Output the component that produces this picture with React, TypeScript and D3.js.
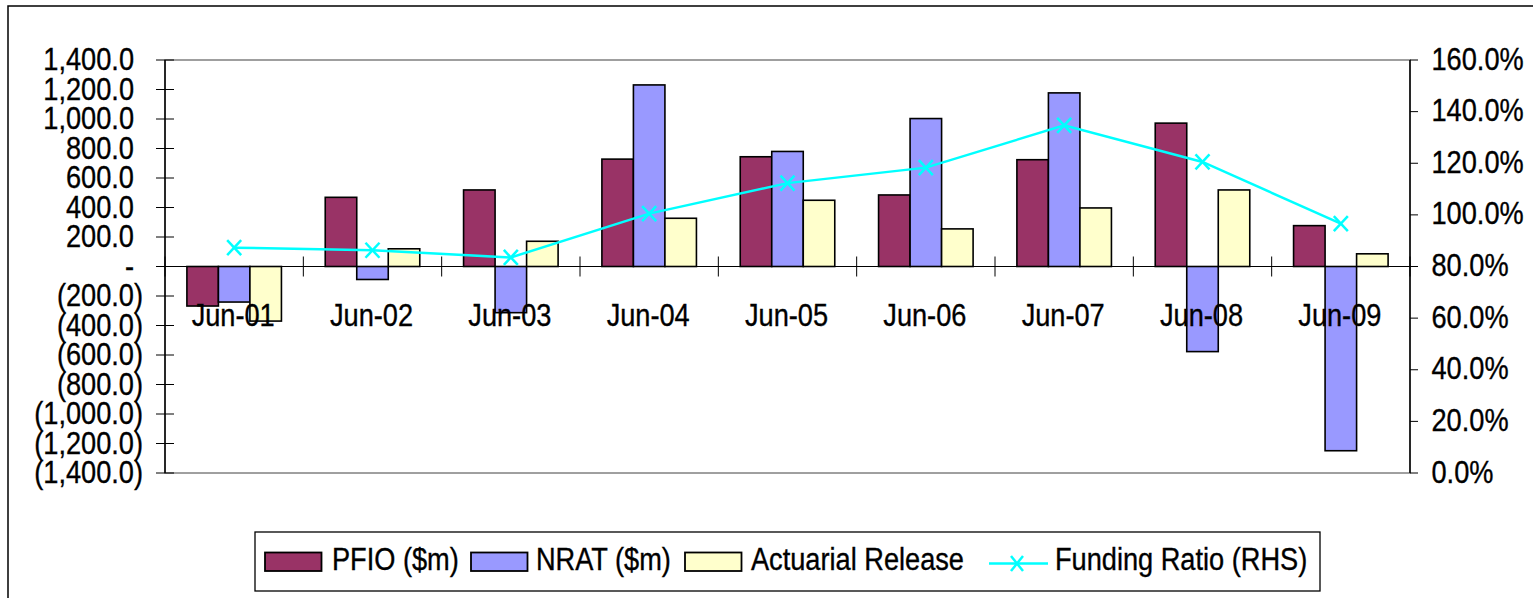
import React from "react";
import * as d3 from "d3";

const categories = ["Jun-01", "Jun-02", "Jun-03", "Jun-04", "Jun-05", "Jun-06", "Jun-07", "Jun-08", "Jun-09"];
const pfio = [-268, 469, 519, 728, 744, 485, 724, 972, 277];
const nrat = [-241, -88, -313, 1231, 780, 1003, 1177, -577, -1249];
const actuarial = [-370, 120, 171, 327, 449, 255, 397, 519, 86];
const funding = [87.3, 86.3, 83.5, 100.5, 112.3, 118.3, 134.7, 120.5, 96.6];
const leftTicks = [-1400, -1200, -1000, -800, -600, -400, -200, 0, 200, 400, 600, 800, 1000, 1200, 1400];
const rightTicks = [0, 20, 40, 60, 80, 100, 120, 140, 160];

const seriesNames = ["PFIO ($m)", "NRAT ($m)", "Actuarial Release", "Funding Ratio (RHS)"];
const colors = ["#993366", "#9999FF", "#FFFFCC"];
const lineColor = "#00FFFF";

const W = 1533, H = 598;
const L = 165, R = 1410, T = 60, B = 473;
const FONT = "'Liberation Sans', Arial, sans-serif";
const FS = 31;
const SX = 0.877;

function T2({ x, y, anchor, children }: { x: number; y: number; anchor?: string; children: React.ReactNode }) {
  return (
    <text
      transform={`translate(${x},${y}) scale(${SX},1)`}
      textAnchor={anchor || "start"}
      fontSize={FS}
      fontFamily={FONT}
      fill="#000"
      stroke="#000"
      strokeWidth={0.35}
    >
      {children}
    </text>
  );
}

const fmtNum = d3.format(",.1f");

export default function App() {
  const x = d3.scaleBand<string>().domain(categories).range([L, R]).paddingInner(0).paddingOuter(0);
  const y = d3.scaleLinear().domain([-1400, 1400]).range([B, T]);
  const y2 = d3.scaleLinear().domain([0, 160]).range([B, T]);
  const bw = x.bandwidth();
  const barW = bw / 4.39;
  const groupOff = (bw - barW * 3) / 2;
  const series = [pfio, nrat, actuarial];
  const line = d3.line<number>().x((_, i) => x(categories[i])! + bw / 2).y((d) => y2(d));
  const y0 = y(0);

  const legendItems = [
    { sx: 265, tx: 332 },
    { sx: 471, tx: 536 },
    { sx: 685, tx: 751 },
  ];

  return (
    <svg width={W} height={H} style={{ position: "absolute", left: 0, top: 0, display: "block" }}>
      <rect x={0} y={0} width={W} height={H} fill="#fff" />
      <rect x={8} y={6} width={1530} height={600} fill="none" stroke="#000" strokeWidth={1.5} />
      {/* plot area border */}
      <rect x={L} y={T} width={R - L} height={B - T} fill="none" stroke="#808080" strokeWidth={1.5} />
      {/* bars */}
      {series.map((s, si) =>
        s.map((v, i) => {
          const bx = x(categories[i])! + groupOff + si * barW;
          const top = Math.min(y(v), y0);
          const h = Math.abs(y(v) - y0);
          return <rect key={`${si}-${i}`} x={bx} y={top} width={barW} height={h} fill={colors[si]} stroke="#000" strokeWidth={1.6} />;
        })
      )}
      {/* zero line */}
      <line x1={L} x2={R} y1={y0} y2={y0} stroke="#000" strokeWidth={1} />
      {/* category ticks */}
      {categories.concat(["end"]).map((c, i) => {
        const cx = L + i * bw;
        return <line key={c} x1={cx} x2={cx} y1={y0 - 10} y2={y0 + 10} stroke="#000" strokeWidth={1} />;
      })}
      {/* left axis */}
      <line x1={L} x2={L} y1={T} y2={B} stroke="#000" strokeWidth={1.5} />
      {leftTicks.map((t) => (
        <line key={t} x1={L - 9} x2={L + 9} y1={y(t)} y2={y(t)} stroke="#000" strokeWidth={1} />
      ))}
      {leftTicks.map((t) => {
        if (t === 0) return <T2 key={t} x={134} y={y(t) + 10} anchor="end">-</T2>;
        if (t < 0) return <T2 key={t} x={143} y={y(t) + 10} anchor="end">{`(${fmtNum(-t)})`}</T2>;
        return <T2 key={t} x={134} y={y(t) + 10} anchor="end">{fmtNum(t)}</T2>;
      })}
      {/* right axis */}
      <line x1={R} x2={R} y1={T} y2={B} stroke="#000" strokeWidth={1.5} />
      {rightTicks.map((t) => (
        <line key={t} x1={R} x2={R + 8} y1={y2(t)} y2={y2(t)} stroke="#000" strokeWidth={1} />
      ))}
      {rightTicks.map((t) => (
        <T2 key={t} x={1431.5} y={y2(t) + 9.5}>{`${t.toFixed(1)}%`}</T2>
      ))}
      {/* category labels */}
      {categories.map((c) => (
        <T2 key={c} x={x(c)! + bw / 2 - 1} y={325.5} anchor="middle">{c}</T2>
      ))}
      {/* funding line */}
      <path d={line(funding) || ""} fill="none" stroke={lineColor} strokeWidth={2.5} />
      {funding.map((v, i) => {
        const cx = x(categories[i])! + bw / 2;
        const cy = y2(v);
        return (
          <g key={i} stroke={lineColor} strokeWidth={2.5}>
            <line x1={cx - 7} y1={cy - 7.5} x2={cx + 7} y2={cy + 7.5} />
            <line x1={cx - 7} y1={cy + 7.5} x2={cx + 7} y2={cy - 7.5} />
          </g>
        );
      })}
      {/* legend */}
      <rect x={255} y={532} width={1065} height={59} fill="#fff" stroke="#000" strokeWidth={1.3} />
      {legendItems.map((it, i) => (
        <g key={i}>
          <rect x={it.sx} y={552.5} width={56.5} height={18.5} fill={colors[i]} stroke="#000" strokeWidth={1.8} />
          <T2 x={it.tx} y={569.5}>{seriesNames[i]}</T2>
        </g>
      ))}
      <g stroke={lineColor} strokeWidth={2.5}>
        <line x1={989} x2={1048} y1={563.5} y2={563.5} />
        <line x1={1011} y1={556} x2={1023} y2={571} />
        <line x1={1011} y1={571} x2={1023} y2={556} />
      </g>
      <T2 x={1055} y={569.5}>{seriesNames[3]}</T2>
    </svg>
  );
}
